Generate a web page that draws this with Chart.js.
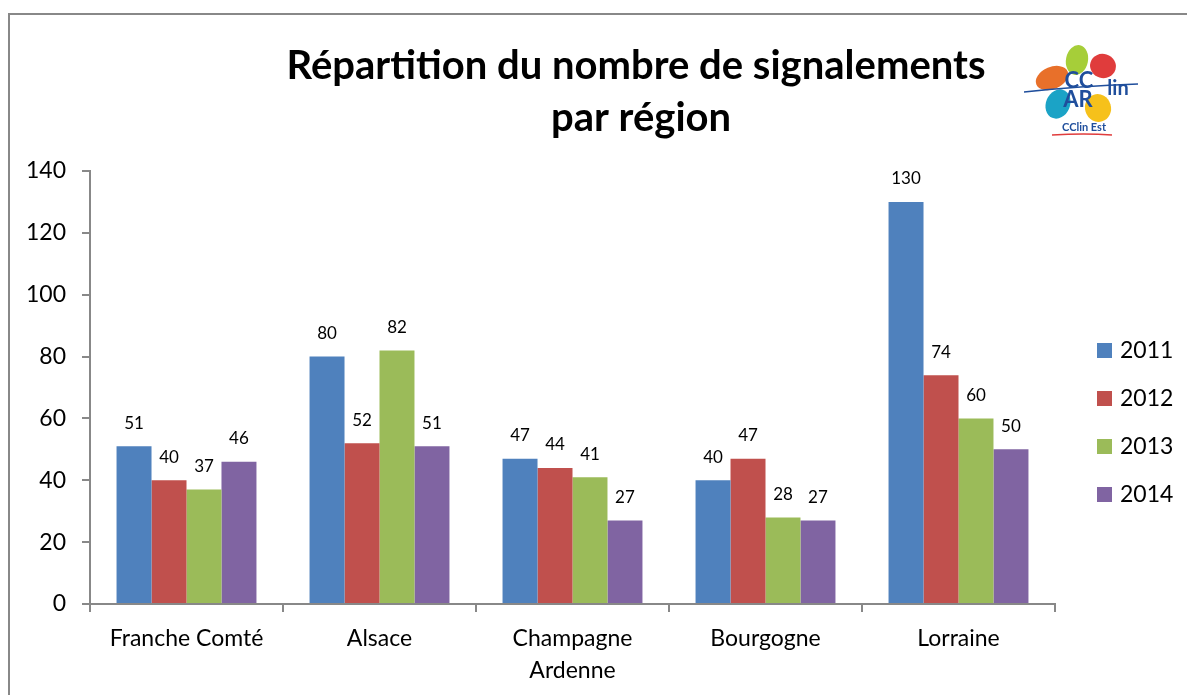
<!DOCTYPE html>
<html lang="fr">
<head>
<meta charset="UTF-8">
<title>Répartition du nombre de signalements par région</title>
<script src="https://cdn.jsdelivr.net/npm/chart.js"></script>
<style>
  body { margin: 0; background: #fff; }
  #chart { display: block; }
</style>
</head>
<body>
<canvas id="chart" width="1187" height="695"></canvas>
<script>
// Data
const regions = ["Franche Comté", "Alsace", ["Champagne", "Ardenne"], "Bourgogne", "Lorraine"];
const years = ["2011", "2012", "2013", "2014"];
const v2011 = [51, 80, 47, 40, 130];
const v2012 = [40, 52, 44, 47, 74];
const v2013 = [37, 82, 41, 28, 60];
const v2014 = [46, 51, 27, 27, 50];
const yTicks = [0, 20, 40, 60, 80, 100, 120, 140];
const titleLines = ["Répartition du nombre de signalements", "par région"];

const colors = ["#4F81BD", "#C0504D", "#9BBB59", "#8064A2"];
const FONT = "Lato, 'Open Sans', sans-serif";

// frame, title, logo, value labels and legend
const decor = {
  id: "decor",
  beforeDraw(chart) {
    const c = chart.ctx;
    c.save();
    c.strokeStyle = "#888";
    c.lineWidth = 2;
    c.beginPath();
    c.moveTo(9, 700);
    c.lineTo(9, 14);
    c.lineTo(1190, 14);
    c.stroke();
    c.restore();
  },
  afterDraw(chart) {
    const c = chart.ctx;
    c.save();
    // title
    c.fillStyle = "#000";
    c.textAlign = "center";
    c.textBaseline = "middle";
    c.font = "bold 40px " + FONT;
    c.fillText(titleLines[0], 636, 66);
    c.fillText(titleLines[1], 641, 118);

    // value labels above bars
    c.font = "17px " + FONT;
    chart.data.datasets.forEach((ds, i) => {
      chart.getDatasetMeta(i).data.forEach((bar, j) => {
        c.fillText(String(ds.data[j]), bar.x, bar.y - 23);
      });
    });

    // legend
    c.textAlign = "left";
    c.font = "23px " + FONT;
    chart.data.datasets.forEach((ds, i) => {
      const y = 350 + i * 48;
      c.fillStyle = ds.backgroundColor;
      c.fillRect(1097, y - 7, 15, 15);
      c.fillStyle = "#000";
      c.fillText(ds.label, 1120, y + 1);
    });

    // small logo
    const petals = [
      ["#E8702A", 1052, 78, 17, 11, -0.4],
      ["#A6CE39", 1077, 60, 11, 15, 0.2],
      ["#E03C3C", 1103, 66, 13, 12, 0.3],
      ["#1BA3C6", 1058, 104, 12, 15, 0.4],
      ["#F6C11B", 1098, 108, 13, 14, -0.3]
    ];
    petals.forEach(p => {
      c.fillStyle = p[0];
      c.beginPath();
      c.ellipse(p[1], p[2], p[3], p[4], p[5], 0, Math.PI * 2);
      c.fill();
    });
    c.strokeStyle = "#1F4E9C";
    c.lineWidth = 1.5;
    c.beginPath();
    c.moveTo(1024, 92);
    c.quadraticCurveTo(1080, 86, 1138, 84);
    c.stroke();
    c.fillStyle = "#1F4E9C";
    c.font = "bold 22px " + FONT;
    c.textAlign = "center";
    c.fillText("CC", 1079, 81);
    c.fillText("AR", 1078, 100);
    c.font = "bold 20px " + FONT;
    c.fillText("lin", 1118, 89);
    c.font = "bold 11px " + FONT;
    c.fillText("CClin Est", 1084, 127);
    c.strokeStyle = "#E03C3C";
    c.lineWidth = 1.5;
    c.beginPath();
    c.moveTo(1052, 135);
    c.quadraticCurveTo(1085, 133, 1112, 135);
    c.stroke();
    c.restore();
  }
};

new Chart(document.getElementById("chart"), {
  type: "bar",
  data: {
    labels: regions,
    datasets: [
      { label: years[0], data: v2011, backgroundColor: colors[0] },
      { label: years[1], data: v2012, backgroundColor: colors[1] },
      { label: years[2], data: v2013, backgroundColor: colors[2] },
      { label: years[3], data: v2014, backgroundColor: colors[3] }
    ]
  },
  options: {
    responsive: false,
    animation: false,
    layout: { padding: { left: 0, right: 132, top: 171, bottom: 0 } },
    datasets: { bar: { barPercentage: 1, categoryPercentage: 0.725 } },
    plugins: {
      legend: { display: false },
      title: { display: false },
      tooltip: { enabled: false }
    },
    scales: {
      x: {
        grid: { offset: true, drawOnChartArea: false, color: "#888", tickLength: 8, lineWidth: 2 },
        border: { color: "#888", width: 2 },
        ticks: { color: "#000", font: { family: FONT, size: 23, lineHeight: 1.4 }, padding: 10, maxRotation: 0 },
        afterFit(scale) { scale.height = 91; }
      },
      y: {
        min: 0,
        max: 140,
        afterBuildTicks(scale) { scale.ticks = yTicks.map(v => ({ value: v })); },
        grid: { drawOnChartArea: false, color: "#888", tickLength: 8, lineWidth: 2 },
        border: { color: "#888", width: 2 },
        ticks: { color: "#000", font: { family: FONT, size: 23 }, padding: 16 },
        afterFit(scale) { scale.width = 90; }
      }
    }
  },
  plugins: [decor]
});
</script>
</body>
</html>
